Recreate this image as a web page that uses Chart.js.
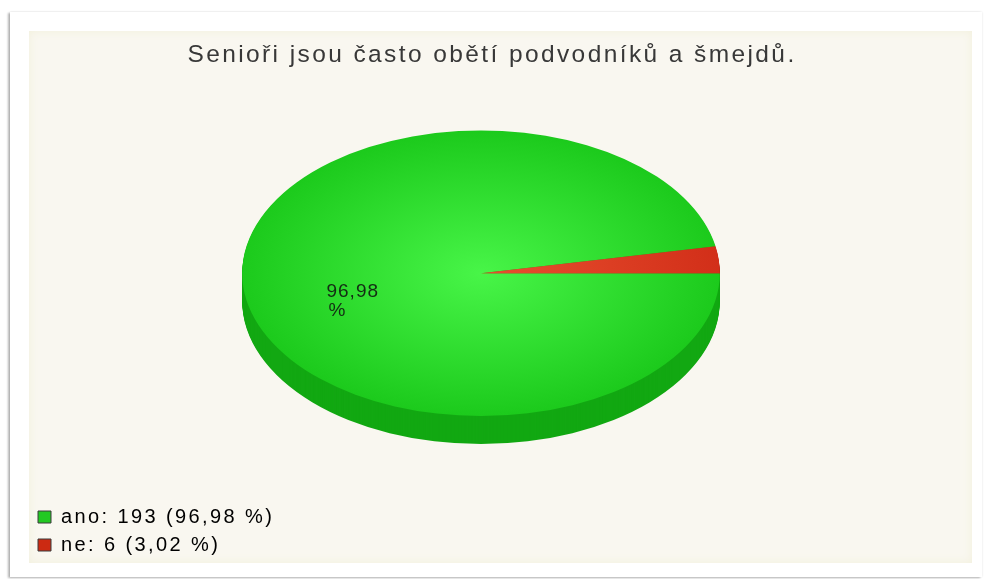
<!DOCTYPE html>
<html lang="cs">
<head>
<meta charset="utf-8">
<title>Senioři jsou často obětí podvodníků a šmejdů.</title>
<script src="https://cdn.jsdelivr.net/npm/chart.js@4.4.1/dist/chart.umd.min.js"></script>
<style>
  html, body { margin: 0; padding: 0; background: #fff; }
  body { width: 984px; height: 579px; position: relative; overflow: hidden; }
  .card {
    position: absolute; left: 10px; top: 12px; width: 972px; height: 565px; background: #fff;
    box-shadow: -2px 1px 2px rgba(0, 0, 0, .28), 0 0 2px rgba(0, 0, 0, .12);
  }
  .panel {
    position: absolute; left: 29px; top: 31px; width: 943px; height: 532px;
    background: #f9f7f0; box-shadow: inset 0 0 10px #f2f0dc;
  }
  canvas { position: absolute; left: 0; top: 0; }
</style>
</head>
<body>
<div class="card"></div>
<div class="panel"></div>
<canvas id="pieChart" width="984" height="579"></canvas>
<script>
const chartTitle = 'Senioři jsou často obětí podvodníků a šmejdů.';
const categories = ['ano', 'ne'];
const answers = [193, 6];

// slice colours: lit top face (centre / rim), side wall, legend swatch
const faceInner = ['#48f548', '#e8502f'];
const faceOuter = ['#1cca1c', '#d22f19'];
const sideColors = ['#12a812', '#a3200e'];
const swatchColors = ['#22c822', '#cc2a12'];

const total = answers.reduce((a, b) => a + b, 0);
const percent = (v) => (v / total * 100).toFixed(2).replace('.', ',');

function faceGradient(context) {
  const chart = context.chart;
  const area = chart.chartArea;
  const i = context.dataIndex;
  if (!area) return faceOuter[i];
  const cx = (area.left + area.right) / 2;
  const cy = (area.top + area.bottom) / 2;
  const r = Math.min(area.width, area.height) / 2;
  const g = chart.ctx.createRadialGradient(cx, cy, 0, cx, cy, r);
  g.addColorStop(0, faceInner[i]);
  g.addColorStop(1, faceOuter[i]);
  return g;
}

// where the tilted disc sits: centred over the whole plot (legend column
// included), nudged by shiftX, and raised by lift above the pie's own centre
function discCentre(chart, arc, opts) {
  return {
    x: (chart.legend.left + chart.chartArea.right) / 2 + opts.shiftX,
    y: arc.y - opts.lift
  };
}

function project(ctx, arc, centre, opts, drop) {
  ctx.translate(centre.x, centre.y + drop);
  ctx.scale(1, opts.tilt);
  ctx.translate(-arc.x, -arc.y);
}

const pie3d = {
  id: 'pie3d',
  beforeLayout(chart) {
    chart.ctx.letterSpacing = '2.4px';
  },
  beforeDraw(chart) {
    chart.ctx.letterSpacing = '2.4px';
  },
  beforeDatasetsDraw(chart, args, opts) {
    const ctx = chart.ctx;
    const arcs = chart.getDatasetMeta(0).data;
    const centre = discCentre(chart, arcs[0], opts);
    // side wall: each slice stacked one pixel lower at a time
    for (let d = opts.depth; d > 0; d--) {
      ctx.save();
      project(ctx, arcs[0], centre, opts, d);
      arcs.forEach((arc, i) => {
        ctx.beginPath();
        ctx.moveTo(arc.x, arc.y);
        ctx.arc(arc.x, arc.y, arc.outerRadius, arc.startAngle, arc.endAngle);
        ctx.closePath();
        ctx.fillStyle = sideColors[i];
        ctx.fill();
      });
      ctx.restore();
    }
    // the controller draws the top face inside this transform
    ctx.save();
    project(ctx, arcs[0], centre, opts, 0);
  },
  afterDatasetsDraw(chart, args, opts) {
    const ctx = chart.ctx;
    ctx.restore();
    const arcs = chart.getDatasetMeta(0).data;
    const centre = discCentre(chart, arcs[0], opts);
    arcs.forEach((arc, i) => {
      if (answers[i] / total < opts.minShare) return;
      const mid = (arc.startAngle + arc.endAngle) / 2;
      const rr = arc.outerRadius * opts.labelRadius;
      const lx = centre.x + Math.cos(mid) * rr;
      const ly = centre.y + Math.sin(mid) * rr * opts.tilt;
      ctx.save();
      ctx.font = '19px "Liberation Sans", Arial, sans-serif';
      ctx.letterSpacing = '1px';
      ctx.fillStyle = '#142c14';
      ctx.textAlign = 'left';
      ctx.textBaseline = 'top';
      ctx.fillText(percent(answers[i]), lx, ly);
      ctx.fillText('%', lx + 2, ly + 19);
      ctx.restore();
    });
  }
};

new Chart(document.getElementById('pieChart'), {
  type: 'pie',
  data: {
    labels: categories,
    datasets: [{
      data: answers,
      backgroundColor: faceGradient,
      borderWidth: 0,
      hoverOffset: 0,
      clip: false
    }]
  },
  options: {
    responsive: false,
    animation: false,
    events: [],
    rotation: 90,
    layout: { padding: { left: 30, right: 30, top: 0, bottom: 16 } },
    plugins: {
      title: {
        display: true,
        text: chartTitle,
        color: '#383838',
        font: { family: '"Liberation Sans", Arial, sans-serif', size: 24.5, weight: 'normal' },
        padding: { top: 41, bottom: 15 }
      },
      legend: {
        position: 'left',
        align: 'end',
        labels: {
          boxWidth: 13,
          boxHeight: 12,
          padding: 8,
          color: '#2a2a2a',
          font: { family: '"Liberation Sans", Arial, sans-serif', size: 20 },
          generateLabels: () => categories.map((name, i) => ({
            text: name + ': ' + answers[i] + ' (' + percent(answers[i]) + ' %)',
            fillStyle: swatchColors[i],
            strokeStyle: '#3a3a3a',
            lineWidth: 1,
            hidden: false,
            index: i
          }))
        }
      },
      tooltip: { enabled: false },
      pie3d: { tilt: 0.598, depth: 28, lift: 51, shiftX: -11, labelRadius: 0.65, minShare: 0.05 }
    }
  },
  plugins: [pie3d]
});
</script>
</body>
</html>
